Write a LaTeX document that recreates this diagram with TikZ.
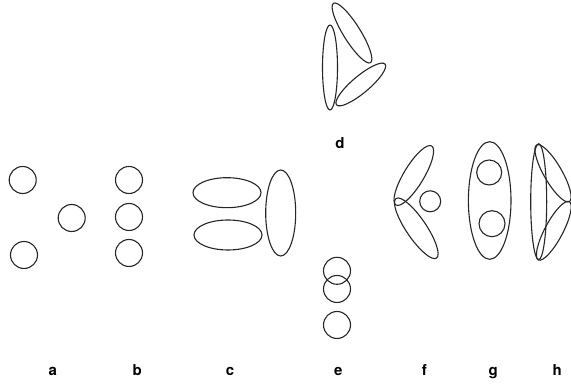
\documentclass[tikz,border=0pt]{standalone}
\usepackage{fontspec}
\setmainfont{TeX Gyre Heros}
\begin{document}
\begin{tikzpicture}[x=1pt,y=1pt,
  outl/.style={draw=black!85,line width=1.1pt},
  lab/.style={anchor=base,font=\fontsize{15}{15}\selectfont\bfseries,inner sep=0pt}]
\useasboundingbox (0,0) rectangle (571,385);
% a
\draw[outl] (22.7,205) circle (13.5);
\draw[outl] (71.7,167) circle (13.5);
\draw[outl] (24,130) circle (13.5);
% b
\draw[outl] (129,205) circle (13.5);
\draw[outl] (129,168) circle (13.5);
\draw[outl] (129,132) circle (13.5);
% c
\draw[outl] (227,192.3) ellipse [x radius=34,y radius=15];
\draw[outl] (228,150) ellipse [x radius=34,y radius=15];
\draw[outl] (280.7,172) ellipse [x radius=15,y radius=43];
% d
\draw[outl] (330,317.5) ellipse [x radius=7.5,y radius=42.5];
\draw[outl,rotate around={-58:(352,352)}] (352,352) ellipse [x radius=35,y radius=8.5];
\draw[outl,rotate around={40:(360.8,300.5)}] (360.8,300.5) ellipse [x radius=31.7,y radius=8.5];
% e
\draw[outl] (337,114.2) circle (13.5);
\draw[outl] (337,96) circle (13.5);
\draw[outl] (337,60) circle (13.5);
% f
\draw[outl,rotate around={58.8:(413.8,209.5)}] (413.8,209.5) ellipse [x radius=34.5,y radius=10];
\draw[outl,rotate around={-55.9:(416.3,156.7)}] (416.3,156.7) ellipse [x radius=36,y radius=10];
\draw[outl] (430.2,183.7) circle (10.5);
% g
\draw[outl] (489.7,184.5) ellipse [x radius=21.3,y radius=58.8];
\draw[outl] (489.2,212.5) circle (12.5);
\draw[outl] (492,161.3) circle (13);
% h
\draw[outl] (538.7,183.3) ellipse [x radius=8,y radius=58];
\draw[outl,rotate around={-60:(553,211.7)}] (553,211.7) ellipse [x radius=32.7,y radius=9];
\draw[outl,rotate around={62:(553.8,154.2)}] (553.8,154.2) ellipse [x radius=33,y radius=9];
% labels
\node[lab] (la) at (52.7,9) {a};
\node[lab] (lb) at (137.3,9) {b};
\node[lab] (lc) at (230,9) {c};
\node[lab] (ld) at (340,236) {d};
\node[lab] (le) at (338.3,9) {e};
\node[lab] (lf) at (424.3,9) {f};
\node[lab] (lg) at (493.3,9) {g};
\node[lab] (lh) at (557.3,9) {h};
\end{tikzpicture}
\end{document}
